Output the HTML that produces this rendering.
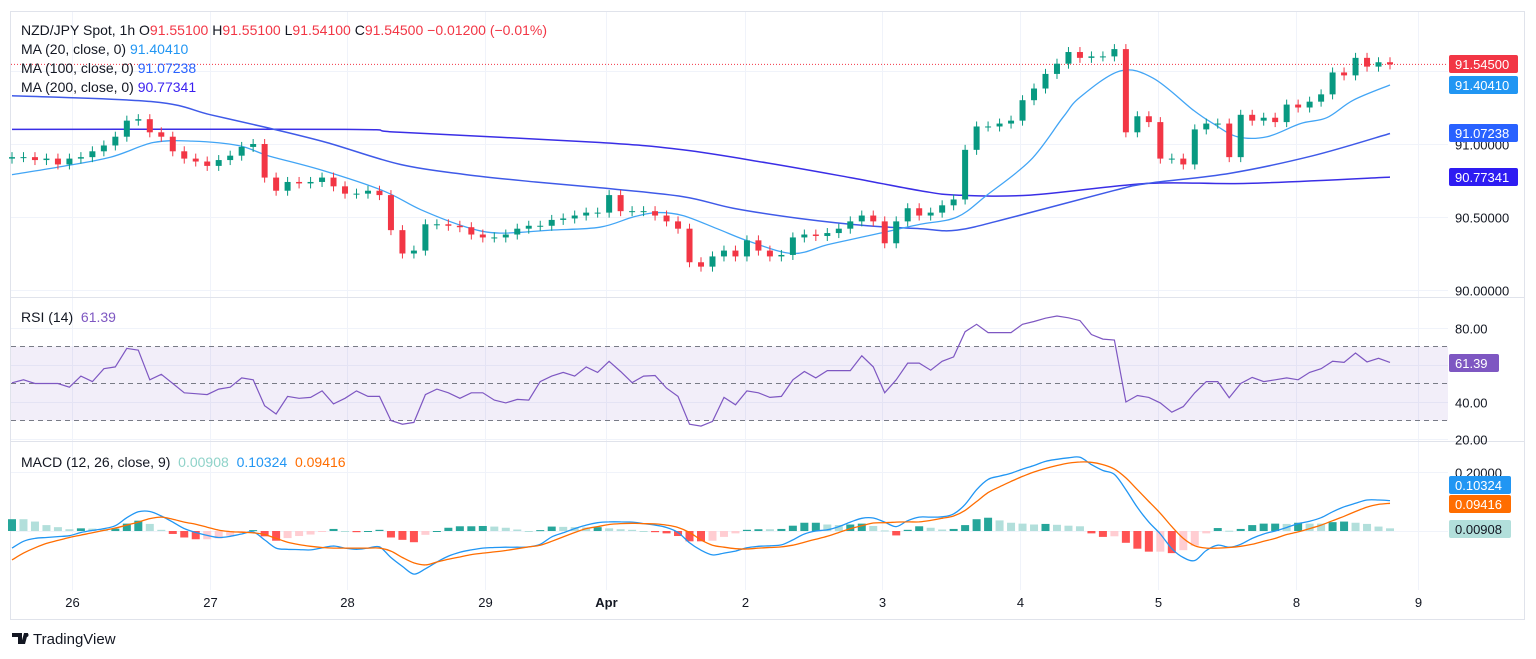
<!DOCTYPE html>
<html><head><meta charset="utf-8"><title>NZD/JPY chart</title>
<style>
html,body{margin:0;padding:0;background:#fff;}
svg{display:block;font-family:"Liberation Sans",Arial,sans-serif;}
</style></head>
<body>
<svg id="chart" width="1536" height="659" viewBox="0 0 1536 659" xmlns="http://www.w3.org/2000/svg">
  <rect x="0" y="0" width="1536" height="659" fill="#fff"/>
  <rect x="10.5" y="11.5" width="1514" height="608" fill="none" stroke="#e0e3eb"/>
  <g id="grid"></g>
  <line x1="11" y1="297.5" x2="1524" y2="297.5" stroke="#e0e3eb"/>
  <line x1="11" y1="441.5" x2="1524" y2="441.5" stroke="#e0e3eb"/>
  <g id="rsiBand"></g>
  <g id="marks"></g>
  <g id="axes"></g>

  <g font-size="14" xml:space="preserve">
    <text x="21" y="35" fill="#131722">NZD/JPY Spot, 1h  <tspan fill="#131722">O</tspan><tspan fill="#f23645">91.55100</tspan>  <tspan fill="#131722">H</tspan><tspan fill="#f23645">91.55100</tspan>  <tspan fill="#131722">L</tspan><tspan fill="#f23645">91.54100</tspan>  <tspan fill="#131722">C</tspan><tspan fill="#f23645">91.54500</tspan>  <tspan fill="#f23645">−0.01200 (−0.01%)</tspan></text>
    <text x="21" y="54" fill="#131722">MA (20, close, 0)  <tspan fill="#2196f3">91.40410</tspan></text>
    <text x="21" y="73" fill="#131722">MA (100, close, 0)  <tspan fill="#2962ff">91.07238</tspan></text>
    <text x="21" y="92" fill="#131722">MA (200, close, 0)  <tspan fill="#3a1ff0">90.77341</tspan></text>
  </g>
  <text x="21" y="322" font-size="14" fill="#131722" xml:space="preserve">RSI (14)  <tspan fill="#7e57c2">61.39</tspan></text>
  <text x="21" y="467" font-size="14" fill="#131722" xml:space="preserve">MACD (12, 26, close, 9)  <tspan fill="#8fd3c9">0.00908</tspan>  <tspan fill="#2196f3">0.10324</tspan>  <tspan fill="#ff6d00">0.09416</tspan></text>

  <g>
    <path d="M12 633h10v11h-4v-7h-6z M24 633h4l-3 11h-4z" fill="#131722"/>
    <circle cx="26.5" cy="635" r="2" fill="#131722"/>
    <text x="33" y="644" font-size="15" fill="#131722">TradingView</text>
  </g>
</svg>
<script>
// ---- data ----
const closes = [90.91,90.91,90.89,90.90,90.86,90.90,90.91,90.95,90.99,91.05,91.16,91.17,91.08,91.05,90.95,90.90,90.88,90.85,90.89,90.92,90.98,91.00,90.77,90.68,90.74,90.73,90.74,90.77,90.71,90.66,90.66,90.68,90.65,90.41,90.25,90.27,90.45,90.45,90.44,90.43,90.38,90.36,90.36,90.38,90.42,90.44,90.44,90.48,90.49,90.51,90.53,90.53,90.65,90.54,90.54,90.54,90.51,90.47,90.42,90.19,90.16,90.23,90.27,90.23,90.34,90.27,90.23,90.24,90.36,90.38,90.37,90.39,90.42,90.47,90.51,90.47,90.32,90.47,90.56,90.51,90.53,90.58,90.62,90.96,91.12,91.12,91.14,91.16,91.30,91.38,91.48,91.55,91.63,91.59,91.60,91.60,91.65,91.08,91.19,91.15,90.90,90.90,90.86,91.10,91.14,91.14,90.91,91.20,91.16,91.18,91.15,91.27,91.25,91.29,91.34,91.49,91.47,91.59,91.53,91.56,91.545];
const firstOpen = 90.90;
const ma20Bars = [0,3.9,8.6,12.3,15.7,19.7,22.3,27,32.3,35.6,39.6,42.5,46.9,51.2,54.1,56.2,58.4,61.4,64.3,68,71,73.9,76.2,79.1,82.3,84.9,88.7,91.5,93,96.5,99.4,102.9,104.6,106.7,109.3,112.2,114.5,116.8,120];
const ma20Vals = [90.79,90.84,90.91,91.01,91.02,90.99,90.92,90.82,90.68,90.55,90.43,90.39,90.41,90.43,90.50,90.53,90.51,90.42,90.33,90.25,90.31,90.36,90.40,90.45,90.50,90.65,90.89,91.18,91.32,91.50,91.45,91.23,91.14,91.05,91.05,91.14,91.18,91.30,91.404];
const ma100Bars = [0,12.3,17.3,22.3,27.4,33.8,39.6,45.6,51.2,58.4,62.8,68.6,74.5,79.1,82.3,87.2,95.9,98.9,106.1,113.3,120];
const ma100Vals = [91.33,91.29,91.20,91.11,91.01,90.86,90.79,90.74,90.70,90.64,90.56,90.49,90.44,90.42,90.41,90.50,90.68,90.73,90.80,90.92,91.072];
const ma200Bars = [0,29,33.8,51.2,58.4,65.8,73,79.1,82.3,88.7,98.9,107.6,120];
const ma200Vals = [91.10,91.10,91.08,91.01,90.96,90.87,90.77,90.68,90.65,90.65,90.73,90.73,90.773];
const rsiVals = [50.4,52,50,50,50,48,54,51,58,59,69,68,52,55,50,45,44.5,44,47,48,53,52,38,33.5,43,42,42.5,46,39,42,46,43,43,30,28,29,44,47,45,42,45,45,41,39.5,41.4,41,51,54,56,54,59,56,62,56.5,50.5,54,54.3,47.5,43,28,27,29.5,42.5,38.5,46,45,42.5,43,52,56.5,53,57,57,57,65,59,45,52,61,61,57.2,62,64.4,78,82,77.5,77.5,77.5,82,83.5,85.3,86.5,85.5,84,76.5,74,73.5,40,43.5,42.5,39.5,34.5,37.5,45,51,51,42.3,50,53.3,51,52,53,52,56,58,62,61.4,66.5,61.7,63.6,61.39];
const macdVals = [-0.058,-0.035,-0.025,-0.022,-0.019,-0.016,-0.005,0.002,0.008,0.018,0.045,0.065,0.066,0.051,0.03,0.008,-0.005,-0.015,-0.022,-0.018,-0.01,-0.003,-0.03,-0.058,-0.062,-0.063,-0.064,-0.057,-0.051,-0.058,-0.062,-0.058,-0.054,-0.09,-0.12,-0.146,-0.128,-0.105,-0.085,-0.072,-0.064,-0.058,-0.056,-0.055,-0.055,-0.054,-0.045,-0.02,-0.006,0.008,0.02,0.028,0.031,0.031,0.03,0.025,0.02,0.012,-0.005,-0.04,-0.065,-0.081,-0.075,-0.068,-0.057,-0.052,-0.05,-0.047,-0.03,-0.01,0.0,0.004,0.015,0.03,0.043,0.044,0.03,0.015,0.035,0.047,0.047,0.048,0.058,0.09,0.14,0.175,0.186,0.196,0.21,0.222,0.236,0.243,0.248,0.25,0.225,0.205,0.192,0.14,0.08,0.03,-0.01,-0.06,-0.09,-0.1,-0.066,-0.048,-0.055,-0.045,-0.025,-0.01,0.0,0.012,0.025,0.033,0.045,0.065,0.082,0.094,0.105,0.105,0.103];
const signalVals = [-0.098,-0.075,-0.057,-0.042,-0.032,-0.022,-0.014,-0.006,0.002,0.01,0.02,0.03,0.042,0.047,0.04,0.03,0.023,0.013,0.003,-0.002,-0.004,-0.006,-0.012,-0.025,-0.038,-0.046,-0.052,-0.056,-0.058,-0.058,-0.058,-0.058,-0.058,-0.068,-0.09,-0.108,-0.115,-0.105,-0.096,-0.088,-0.08,-0.075,-0.071,-0.066,-0.06,-0.054,-0.048,-0.035,-0.02,-0.005,0.008,0.015,0.022,0.025,0.026,0.025,0.024,0.02,0.012,-0.005,-0.03,-0.048,-0.055,-0.06,-0.061,-0.058,-0.056,-0.054,-0.048,-0.038,-0.028,-0.018,-0.005,0.008,0.018,0.027,0.028,0.03,0.031,0.031,0.036,0.043,0.051,0.07,0.1,0.13,0.15,0.168,0.185,0.2,0.212,0.222,0.23,0.234,0.233,0.225,0.21,0.18,0.14,0.1,0.06,0.015,-0.025,-0.05,-0.058,-0.058,-0.056,-0.052,-0.045,-0.035,-0.025,-0.012,-0.003,0.008,0.02,0.035,0.05,0.066,0.081,0.09,0.094];
const dayLabels = ["26","27","28","29","Apr","2","3","4","5","8","9"];
const dayBars = [5.2,17.2,29.2,41.2,51.7,63.8,75.8,87.8,99.8,111.8,122.4];
const priceTicks = [90.0,90.5,91.0,91.5];
const priceTickLabels = ["90.00000","90.50000","91.00000",""];
const rsiTicks = [20,40,60,80];
const rsiTickLabels = ["20.00","40.00","","80.00"];
const macdTicks = [0.2,0];
const macdTickLabels = ["0.20000",""];

// ---- axes ----
const X0 = 12, X1 = 1390, N = closes.length - 1;
const xB = b => X0 + b * (X1 - X0) / N;
const yP = p => 290 - (p - 90) * 146;
const yR = v => 402 - (v - 40) * 1.85;
const yM = v => 531 - v * 295;
const PLOT_R = 1448;
const NS = "http://www.w3.org/2000/svg";
function mk(tag, attrs, parent) {
  const e = document.createElementNS(NS, tag);
  for (const k in attrs) e.setAttribute(k, attrs[k]);
  parent.appendChild(e);
  return e;
}
const grid = document.getElementById('grid');
const marks = document.getElementById('marks');
const axes = document.getElementById('axes');
const band = document.getElementById('rsiBand');

dayBars.forEach((b, i) => {
  const x = Math.round(xB(b)) + 0.5;
  const l = mk('line', {x1: x, y1: 12, x2: x, y2: 590, stroke: '#f0f3fa'}, grid);
  
  
  const t = mk('text', {x: x, y: 607, 'font-size': 13, fill: '#131722', 'text-anchor': 'middle', 'font-weight': dayLabels[i] === 'Apr' ? 'bold' : 'normal'}, axes);
  t.textContent = dayLabels[i];
  
  
});
function hTicks(vals, labels, fy, name) {
  vals.forEach((v, i) => {
    const y = Math.round(fy(v)) + 0.5;
    const l = mk('line', {x1: 11, y1: y, x2: PLOT_R, y2: y, stroke: '#f0f3fa'}, grid);
    
    
    if (labels[i]) {
      const t = mk('text', {x: 1455, y: y + 5, 'font-size': 13, fill: '#131722'}, axes);
      t.textContent = labels[i];
      
      
    }
  });
}
hTicks(priceTicks, priceTickLabels, yP, 'price-axis');
hTicks(rsiTicks, rsiTickLabels, yR, 'rsi-axis');
hTicks(macdTicks, macdTickLabels, yM, 'macd-axis');

const bandRect = mk('rect', {x: 11, y: yR(70), width: PLOT_R - 11, height: yR(30) - yR(70), fill: 'rgba(126,87,194,0.1)'}, band);


[70, 50, 30].forEach(v => {
  const l = mk('line', {x1: 11, y1: yR(v), x2: PLOT_R, y2: yR(v), stroke: '#787b86', 'stroke-dasharray': '5,4'}, band);
  
  
});

const pl = mk('line', {x1: 11, y1: yP(closes[N]), x2: PLOT_R, y2: yP(closes[N]), stroke: '#f23645', 'stroke-dasharray': '1,2'}, marks);



// smooth curve (Catmull-Rom) through data points
function smooth(bars, vals, fy) {
  const p = bars.map((b, i) => [xB(b), fy(vals[i])]);
  let d = 'M' + p[0][0].toFixed(1) + ' ' + p[0][1].toFixed(1);
  for (let i = 0; i < p.length - 1; i++) {
    const p0 = p[i - 1] || p[i], p1 = p[i], p2 = p[i + 1], p3 = p[i + 2] || p2;
    const c1x = p1[0] + (p2[0] - p0[0]) / 6, c1y = p1[1] + (p2[1] - p0[1]) / 6;
    const c2x = p2[0] - (p3[0] - p1[0]) / 6, c2y = p2[1] - (p3[1] - p1[1]) / 6;
    d += ' C' + c1x.toFixed(1) + ' ' + c1y.toFixed(1) + ' ' + c2x.toFixed(1) + ' ' + c2y.toFixed(1) + ' ' + p2[0].toFixed(1) + ' ' + p2[1].toFixed(1);
  }
  return d;
}
const m200 = mk('path', {d: smooth(ma200Bars, ma200Vals, yP), fill: 'none', stroke: '#3a2ee6', 'stroke-width': 1.5}, marks);


const m100 = mk('path', {d: smooth(ma100Bars, ma100Vals, yP), fill: 'none', stroke: '#3f5ae8', 'stroke-width': 1.5}, marks);


const m20 = mk('path', {d: smooth(ma20Bars, ma20Vals, yP), fill: 'none', stroke: '#42a5f5', 'stroke-width': 1.3}, marks);



closes.forEach((c, i) => {
  const o = i ? closes[i - 1] : firstOpen;
  const up = c >= o;
  const col = up ? '#089981' : '#f23645';
  const x = xB(i);
  const yt = yP(Math.max(o, c)), yb = yP(Math.min(o, c));
  const w = mk('line', {x1: x, y1: yt - 5, x2: x, y2: yb + 5, stroke: col, 'stroke-width': 1}, marks);
  
  
  const r = mk('rect', {x: x - 3, y: yt, width: 6, height: Math.max(1, yb - yt), fill: col}, marks);
  
  
});

const rsiPath = mk('path', {d: rsiVals.map((v, i) => (i ? 'L' : 'M') + xB(i).toFixed(1) + ' ' + yR(v).toFixed(1)).join(' '), fill: 'none', stroke: '#7e57c2', 'stroke-width': 1.2}, marks);



macdVals.forEach((m, i) => {
  const h = m - signalVals[i];
  const prev = i ? macdVals[i - 1] - signalVals[i - 1] : h;
  let col;
  if (h >= 0) col = h >= prev ? '#26a69a' : '#b2dfdb';
  else col = h <= prev ? '#ff5252' : '#ffcdd2';
  const y0 = yM(0), y1 = yM(h);
  const r = mk('rect', {x: xB(i) - 4, y: Math.min(y0, y1), width: 8, height: Math.max(1, Math.abs(y1 - y0)), fill: col}, marks);
  
  
});
const mp = mk('path', {d: smooth(macdVals.map((v, i) => i), macdVals, yM), fill: 'none', stroke: '#2196f3', 'stroke-width': 1.3}, marks);


const sp = mk('path', {d: smooth(signalVals.map((v, i) => i), signalVals, yM), fill: 'none', stroke: '#ff6d00', 'stroke-width': 1.3}, marks);



function badge(yc, text, bg, fg, w, name) {
  const r = mk('rect', {x: 1449, y: yc - 9, width: w, height: 18, rx: 2, fill: bg}, axes);
  
  
  const t = mk('text', {x: 1455, y: yc + 5, 'font-size': 13, fill: fg}, axes);
  t.textContent = text;
  
  
}
badge(64, '91.54500', '#f23645', '#fff', 69, 'last-price-badge');
badge(85, '91.40410', '#2196f3', '#fff', 69, 'ma20-badge');
badge(133, '91.07238', '#2962ff', '#fff', 69, 'ma100-badge');
badge(177, '90.77341', '#2e1cf2', '#fff', 69, 'ma200-badge');
badge(363, '61.39', '#7e57c2', '#fff', 50, 'rsi-badge');
badge(485, '0.10324', '#2196f3', '#fff', 62, 'macd-badge');
badge(504, '0.09416', '#ff6d00', '#fff', 62, 'signal-badge');
badge(529, '0.00908', '#b2dfdb', '#131722', 62, 'histogram-badge');
</script>
</body></html>
